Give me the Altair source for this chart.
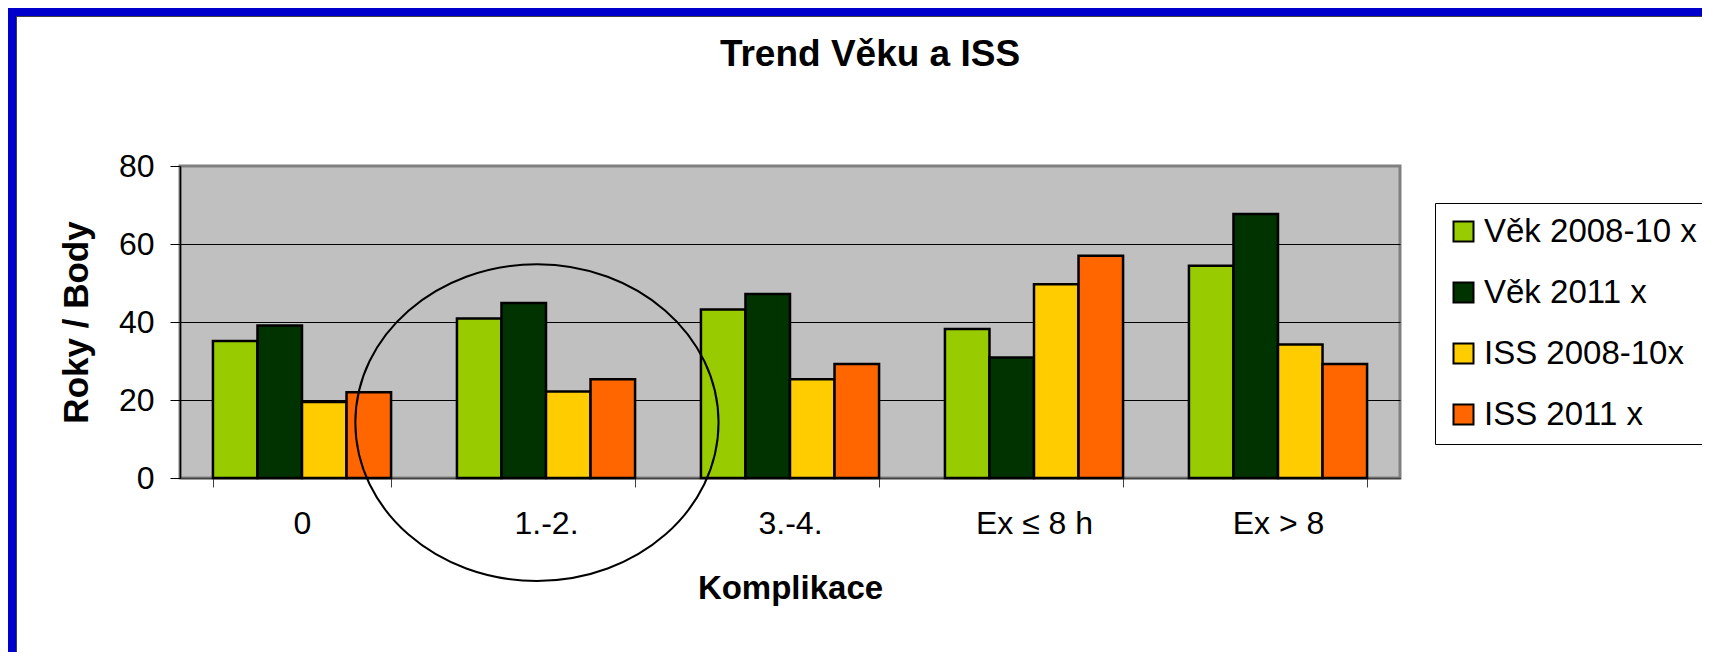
import altair as alt
import pandas as pd

# ---- data ----
categories = ["0", "1.-2.", "3.-4.", "Ex ≤ 8 h", "Ex > 8"]
series = ["Věk 2008-10 x", "Věk 2011 x", "ISS 2008-10x", "ISS 2011 x"]
vek_2008_10 = [35.1, 40.9, 43.2, 38.2, 54.4]
vek_2011 = [39.1, 44.9, 47.2, 30.9, 67.7]
iss_2008_10 = [19.5, 22.2, 25.3, 49.7, 34.2]
iss_2011 = [22.0, 25.3, 29.2, 57.0, 29.2]
colors = ["#99CC00", "#003300", "#FFCC00", "#FF6600"]
y_ticks = [0, 20, 40, 60, 80]
highlight_category = "1.-2."
highlight_value = 14.2

rows = []
for s, vals in zip(series, [vek_2008_10, vek_2011, iss_2008_10, iss_2011]):
    for c, v in zip(categories, vals):
        rows.append({"Komplikace": c, "Serie": s, "Hodnota": v})
df = pd.DataFrame(rows)

FONT = "Liberation Sans"

bars = alt.Chart(df).mark_bar(stroke="black", strokeWidth=2.5).encode(
    x=alt.X(
        "Komplikace:N",
        sort=categories,
        scale=alt.Scale(paddingInner=0.27, paddingOuter=0.135),
        axis=alt.Axis(
            title="Komplikace",
            labelAngle=0,
            tickBand="extent",
            tickSize=9,
            tickColor="#404040",
            domainColor="#404040",
            domainWidth=1.5,
            labelFontSize=32,
            labelPadding=21,
            labelColor="black",
            titleFontSize=33,
            titleFontWeight="bold",
            titlePadding=33,
            grid=False,
        ),
    ),
    xOffset=alt.XOffset("Serie:N", sort=series, scale=alt.Scale(paddingInner=0, paddingOuter=0)),
    y=alt.Y(
        "Hodnota:Q",
        scale=alt.Scale(domain=[0, 80], nice=False),
        axis=alt.Axis(
            title="Roky / Body",
            values=y_ticks,
            tickSize=10,
            tickColor="black",
            domainColor="black",
            domainWidth=1.5,
            gridColor={"condition": {"test": "datum.value === 80", "value": "#808080"}, "value": "black"},
            gridWidth=1,
            labelFontSize=32,
            labelPadding=16,
            labelColor="black",
            titleFontSize=35,
            titleFontWeight="bold",
            titlePadding=24,
        ),
    ),
    color=alt.Color(
        "Serie:N",
        sort=series,
        scale=alt.Scale(domain=series, range=colors),
        legend=alt.Legend(
            title=None,
            orient="none",
            legendX=1255,
            legendY=37,
            strokeColor="black",
            fillColor="white",
            padding=12,
            symbolType="square",
            symbolSize=400,
            symbolStrokeColor="black",
            symbolStrokeWidth=2,
            symbolOpacity=1,
            labelFontSize=33,
            labelFont=FONT,
            labelColor="black",
            labelOffset=4,
            rowPadding=27,
            labelLimit=400,
        ),
    ),
)

ellipse_path = (
    "M 1 0 C 1 0.4816 0.5523 0.872 0 0.872 C -0.5523 0.872 -1 0.4816 -1 0 "
    "C -1 -0.4816 -0.5523 -0.872 0 -0.872 C 0.5523 -0.872 1 -0.4816 1 0 Z"
)
ell_df = pd.DataFrame({"Komplikace": [highlight_category], "Hodnota": [highlight_value]})
ellipse = alt.Chart(ell_df).mark_point(
    shape=ellipse_path, size=131912, filled=False, stroke="black",
    strokeWidth=2, opacity=1, clip=False,
).encode(
    x=alt.X("Komplikace:N", sort=categories),
    y=alt.Y("Hodnota:Q"),
    xOffset=alt.value(80),
)

frame_df = pd.DataFrame({"k": [0]})
frame_left = alt.Chart(frame_df).mark_rect(color="#0000CC").encode(
    x=alt.value(-172), x2=alt.value(-164), y=alt.value(-158), y2=alt.value(500)
)
frame_top = alt.Chart(frame_df).mark_rect(color="#0000CC").encode(
    x=alt.value(-172), x2=alt.value(1560), y=alt.value(-158), y2=alt.value(-150)
)
line_left = alt.Chart(frame_df).mark_rule(color="#404040", strokeWidth=1).encode(
    x=alt.value(-163.5), y=alt.value(-150), y2=alt.value(500)
)
line_top = alt.Chart(frame_df).mark_rule(color="#404040", strokeWidth=1).encode(
    x=alt.value(-164), x2=alt.value(1560), y=alt.value(-149.5)
)

chart = alt.layer(bars, ellipse, frame_left, frame_top, line_left, line_top).properties(
    width=1220,
    height=312,
    title=alt.TitleParams(
        "Trend Věku a ISS", fontSize=37, font=FONT, fontWeight="bold",
        anchor="middle", dx=80, offset=0, dy=95, baseline="alphabetic", color="black",
    ),
    autosize=alt.AutoSizeParams(type="none"),
    padding={"left": 172, "top": 158, "right": 302, "bottom": 174},
    background="white",
).configure_view(
    fill="#C0C0C0", stroke="#808080", strokeWidth=3
).configure_axis(
    labelFont=FONT, titleFont=FONT, titleColor="black"
)

chart.save("out.html", embed_options={"renderer": "svg", "actions": False})
